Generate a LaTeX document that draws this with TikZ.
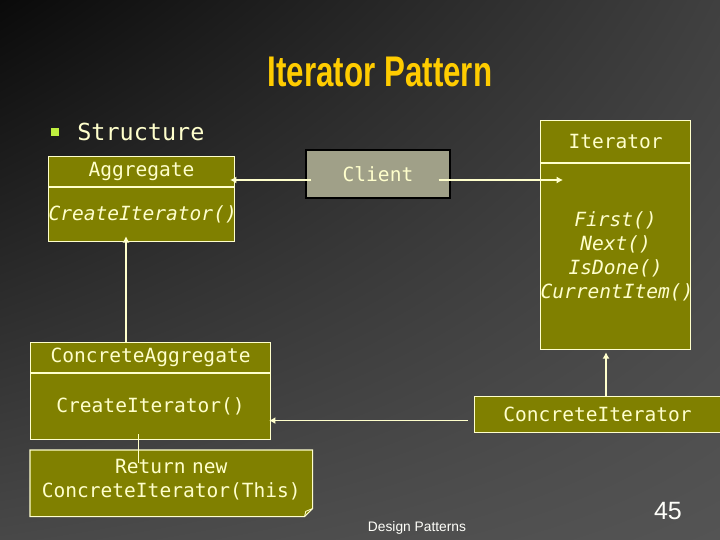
\documentclass[tikz,border=0pt]{standalone}
\usepackage{fontspec}
\setmainfont{Liberation Sans}
\setmonofont{DejaVu Sans Mono}
\usetikzlibrary{arrows.meta,calc,backgrounds,shadings}
\definecolor{olivebox}{HTML}{808000}
\definecolor{cream}{HTML}{FFFFCC}
\definecolor{titleyellow}{HTML}{FFCC00}
\definecolor{clientgrey}{HTML}{A0A088}
\definecolor{bulletgreen}{HTML}{BFEF3F}
\definecolor{bgul}{HTML}{0A0A0A}
\definecolor{bgur}{HTML}{404040}
\definecolor{bgll}{HTML}{484848}
\definecolor{bglr}{HTML}{545454}
\newcommand{\umlfont}{\ttfamily\fontsize{13.9}{17}\selectfont}
\tikzset{
  classhead/.style={draw=cream, fill=olivebox, line width=0.8pt, text=cream,
    font=\umlfont, inner sep=0pt, align=center},
  classbody/.style={classhead},
  notebox/.style={text=cream, font=\umlfont, inner sep=0pt, align=center},
  assoc/.style={draw=cream, line width=1.2pt, -{Latex[length=4.5pt,width=5pt]}},
  notelink/.style={draw=cream, line width=0.6pt},
}
\begin{document}
\begin{tikzpicture}
  \useasboundingbox (0,0) rectangle (18,-13.5);
  \begin{scope}[on background layer]
    \shade[shading=bilinear interpolation, upper left=bgul, upper right=bgur,
           lower left=bgll, lower right=bglr] (0,0) rectangle (18,-13.5);
  \end{scope}
  % title and bullet
  \node[text=titleyellow, font=\bfseries\fontsize{30.5}{32}\selectfont] (title) at (9.5,-1.8)
    {\scalebox{0.73}[1]{Iterator Pattern}};
  \node[fill=bulletgreen, minimum size=0.2cm, inner sep=0pt] (bullet) at (1.375,-3.3) {};
  \node[anchor=west, inner sep=0pt, text=cream, font=\ttfamily\fontsize{16.7}{20}\selectfont]
    (structure) at (1.925,-3.3) {Structure};
  % classes
  \node[classhead, text width=4.65cm, minimum height=0.75cm, anchor=north west] (agghead)
    at (1.2,-3.9) {Aggregate};
  \node[classbody, text width=4.65cm, minimum height=1.35cm, anchor=north, font=\umlfont\itshape]
    (aggbody) at (agghead.south) {CreateIterator()};
  \node[draw=black, fill=clientgrey, line width=0.8pt, text=cream, font=\umlfont,
    minimum width=3.6cm, minimum height=1.2cm] (client) at (9.45,-4.35) {Client};
  \node[classhead, text width=3.75cm, minimum height=1.05cm, anchor=north west] (iterhead)
    at (13.5,-3.0) {Iterator};
  \node[classbody, text width=3.75cm, minimum height=4.65cm, anchor=north, font=\umlfont\itshape]
    (iterbody) at (iterhead.south) {First()\\Next()\\IsDone()\\CurrentItem()};
  \node[classhead, text width=6cm, minimum height=0.75cm, anchor=north west] (concagghead)
    at (0.75,-8.55) {ConcreteAggregate};
  \node[classbody, text width=6cm, minimum height=1.65cm, anchor=north] (concaggbody)
    at (concagghead.south) {CreateIterator()};
  \node[classhead, text width=6.15cm, minimum height=0.9cm, anchor=north west] (conciter)
    at (11.85,-9.9) {ConcreteIterator};
  % note
  \node[notebox, text width=7.05cm, minimum height=1.45cm, anchor=north west] (note)
    at (0.75,-11.25) {Return new\\ConcreteIterator(This)};
  \coordinate (notese) at ($(note.south east)+(0,-0.2)$);
  \coordinate (notesw) at ($(note.south west)+(0,-0.2)$);
  \begin{scope}[on background layer]
    \fill[olivebox] (note.north west) -- (note.north east) -- ($(notese)+(0,0.2)$)
      -- ($(notese)+(-0.2,0)$) -- (notesw) -- cycle;
  \end{scope}
  \draw[cream, line width=0.8pt] (note.north west) -- (note.north east) -- ($(notese)+(0,0.2)$)
    -- ($(notese)+(-0.2,0)$) -- (notesw) -- cycle;
  \draw[cream, line width=0.6pt] ($(notese)+(0,0.2)$) -- ($(notese)+(-0.17,0.13)$)
    -- ($(notese)+(-0.2,0)$);
  % connectors
  \coordinate (aggin) at ($(aggbody.south west)+(1.95,0.15)$);
  \coordinate (iterin) at ($(iterbody.south west)+(1.65,-0.05)$);
  \draw[assoc] ($(client.west)+(0.15,-0.15)$) -- ($(agghead.east |- client.west)+(-0.125,-0.15)$);
  \draw[assoc] ($(client.east)+(-0.3,-0.15)$) -- ($(iterbody.west |- client.east)+(0.575,-0.15)$);
  \draw[assoc] (aggin |- concagghead.north) -- (aggin);
  \draw[assoc] (iterin |- conciter.north) -- (iterin);
  \draw[assoc] ($(conciter.west)+(-0.15,-0.15)$) -- ($(concaggbody.east |- conciter.west)+(-0.05,-0.15)$);
  \draw[notelink] ($(concaggbody.south west)+(2.7,0.15)$) -- ($(note.north west)+(2.7,-0.325)$);
  % footer
  \node[text=white!90!cream, font=\fontsize{9.8}{12}\selectfont] (footer) at (10.425,-13.2) {Design Patterns};
  \node[text=white!90!cream, font=\fontsize{17.8}{20}\selectfont] (pagenum) at (16.7,-12.775) {45};
\end{tikzpicture}
\end{document}
